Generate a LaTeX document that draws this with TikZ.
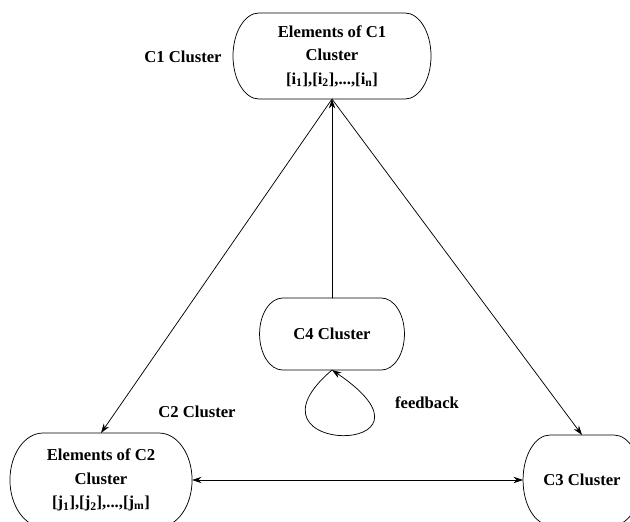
\documentclass[tikz,border=0pt]{standalone}
\usepackage{fontspec}
\setmainfont{Liberation Serif}
\usepackage{tikz}
\usetikzlibrary{arrows.meta}
\usetikzlibrary{shapes,positioning}
\tikzset{>={Stealth[length=9pt,width=6pt]},
  cluster/.style={rectangle,outer sep=0pt,align=center,
    font=\bfseries\fontsize{15.8}{22.3}\selectfont},
  lbl/.style={font=\bfseries\fontsize{15.8}{19}\selectfont},
  link/.style={line width=0.7pt}}

\begin{document}
\begin{tikzpicture}[line cap=round]

  \useasboundingbox (0,0) rectangle (21,17.367);

  \node [cluster,minimum width=6.6cm,minimum height=2.87cm] (c1) at (11.067,15.5)
    {Elements of C1\\Cluster\\{}[i\textsubscript{1}],[i\textsubscript{2}],...,[i\textsubscript{n}]};
  \node [cluster,minimum width=4.83cm,minimum height=2.4cm] (c4) at (11.067,6.233) {C4 Cluster};
  \node [cluster,minimum width=6.07cm,minimum height=3.13cm] (c2) at (3.367,1.367)
    {Elements of C2\\Cluster\\{}[j\textsubscript{1}],[j\textsubscript{2}],...,[j\textsubscript{m}]};
  \node [cluster,minimum width=3.93cm,minimum height=3cm] (c3) at (19.4,1.367) {C3 Cluster};

  % outlines with elliptic ends
  \draw [link] ([xshift=0.87cm]c1.north west) -- ([xshift=-0.87cm]c1.north east)
    arc [start angle=90,end angle=-90,x radius=0.87cm,y radius=1.435cm]
    -- ([xshift=0.87cm]c1.south west)
    arc [start angle=270,end angle=90,x radius=0.87cm,y radius=1.435cm] -- cycle;
  \draw [link] ([xshift=0.77cm]c4.north west) -- ([xshift=-0.77cm]c4.north east)
    arc [start angle=90,end angle=-90,x radius=0.77cm,y radius=1.2cm]
    -- ([xshift=0.77cm]c4.south west)
    arc [start angle=270,end angle=90,x radius=0.77cm,y radius=1.2cm] -- cycle;
  \draw [link] ([xshift=1.1cm]c2.north west) -- ([xshift=-1.1cm]c2.north east)
    arc [start angle=90,end angle=-90,x radius=1.1cm,y radius=1.565cm]
    -- ([xshift=1.1cm]c2.south west)
    arc [start angle=270,end angle=90,x radius=1.1cm,y radius=1.565cm] -- cycle;
  \draw [link] ([xshift=0.9cm]c3.north west) -- ([xshift=-0.9cm]c3.north east)
    arc [start angle=90,end angle=-90,x radius=0.9cm,y radius=1.5cm]
    -- ([xshift=0.9cm]c3.south west)
    arc [start angle=270,end angle=90,x radius=0.9cm,y radius=1.5cm] -- cycle;

  \node [lbl] (c1lbl) at (6.1,15.467) {C1 Cluster};
  \node [lbl] (c2lbl) at (6.567,3.633) {C2 Cluster};
  \node [lbl] (fb) at (14.233,3.933) {feedback};

  % links between clusters
  \draw [link,->] (c4.north) -- (c1.south);
  \draw [link,->] (c1.south) -- (c2.north);
  \draw [link,->] (c1.south) -- (c3.north);
  \draw [link,<->] (c2.east) -- (c3.west);

  % feedback loop
  \draw [link,->] (c4.south) .. controls +(-3.4,-2.9) and +(4.3,-2.9) .. (c4.south);

\end{tikzpicture}
\end{document}
